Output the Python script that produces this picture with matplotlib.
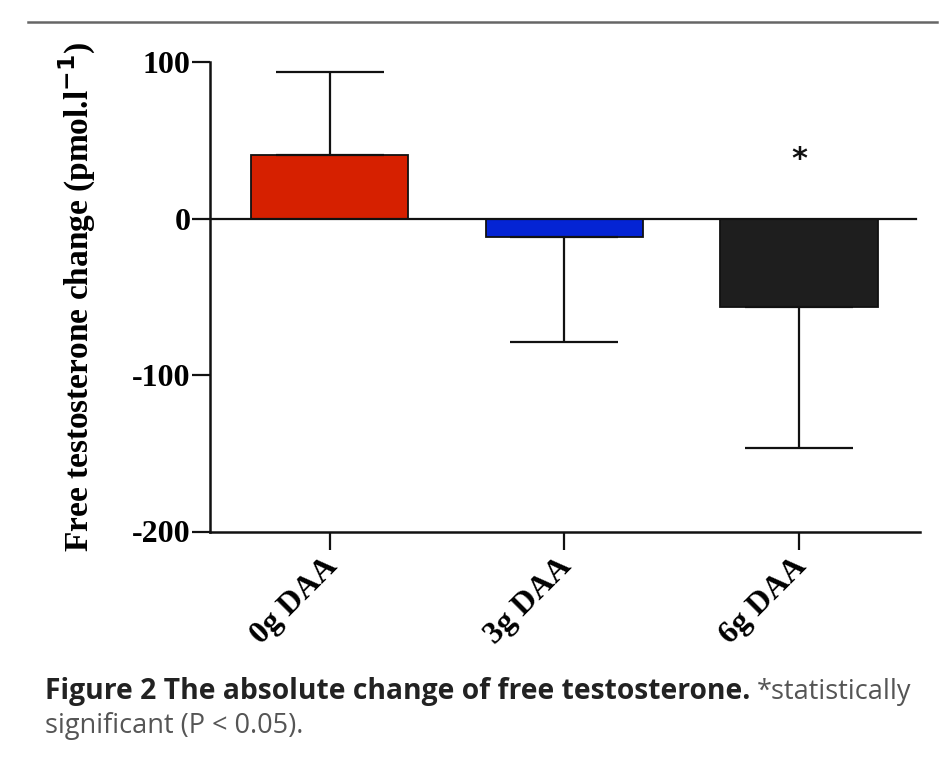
import matplotlib.pyplot as plt
from matplotlib.lines import Line2D

groups = ["0g DAA", "3g DAA", "6g DAA"]
means = [41, -11.5, -56.5]
errs = [53, 67, 90]
colors = ["#D62000", "#0424D4", "#1E1E1E"]
sig = [False, False, True]
yticks = [-200, -100, 0, 100]

plt.rcParams["font.family"] = ["Liberation Serif", "DejaVu Serif"]

fig = plt.figure(figsize=(9.53, 7.68), dpi=100)
ax = fig.add_axes([210 / 953, 1 - 531.5 / 768, 710 / 953, 469 / 768])

x = list(range(len(groups)))
ax.bar(x, means, width=0.67, color=colors, edgecolor="#111111", linewidth=1.3, zorder=2)
# one-sided error bars, away from zero
for xi, m, e in zip(x, means, errs):
    sign = 1 if m >= 0 else -1
    ax.errorbar(xi, m, yerr=[[e if sign < 0 else 0], [e if sign > 0 else 0]],
                fmt="none", ecolor="#111111", elinewidth=1.6, capsize=39, capthick=1.6, zorder=3)
for xi, s in zip(x, sig):
    if s:
        ax.text(xi, 38, "*", ha="center", va="center", fontsize=22, fontweight="bold",
                family="DejaVu Sans", color="#111111")

ax.axhline(0, color="#111111", linewidth=1.6, xmax=0.995, zorder=4)
ax.set_xlim(-0.51, 2.515)
ax.set_ylim(-200, 100)
ax.set_yticks(yticks)
ax.set_yticklabels([str(t) for t in yticks], fontsize=23, fontweight="bold")
ax.set_xticks(x)
ax.set_xticklabels([])
# rotated category labels, nudged left like the original
for xi, g in zip(x, groups):
    ax.annotate(g, xy=(xi, 0), xycoords=ax.get_xaxis_transform(),
                xytext=(-7, -20), textcoords="offset pixels",
                rotation=45, ha="right", va="top", rotation_mode="anchor",
                fontsize=23, fontweight="bold", annotation_clip=False)
for sp in ["top", "right"]:
    ax.spines[sp].set_visible(False)
for sp in ["left", "bottom"]:
    ax.spines[sp].set_linewidth(1.8)
    ax.spines[sp].set_color("#111111")
ax.tick_params(axis="both", length=13, width=1.6, color="#111111")
ax.tick_params(axis="y", pad=1)
ax.set_ylabel("Free testosterone change (pmol.l$^{\\mathbf{-1}}$)", fontsize=24,
              fontweight="bold")
ax.yaxis.set_label_coords(-0.158, 0.50)

fig.add_artist(Line2D([28 / 953, 937 / 953], [1 - 22 / 768] * 2, color="#666666", linewidth=1.8))

cap_font = ["Open Sans", "DejaVu Sans"]
t1 = fig.text(45 / 953, 1 - 699 / 768, "Figure 2 The absolute change of free testosterone.",
              fontsize=20.3, fontweight="bold", family=cap_font, color="#222222", va="baseline")
fig.canvas.draw()
bb = t1.get_window_extent()
fig.text((bb.x1 + 6) / 953, 1 - 699 / 768, "*statistically", fontsize=19.5,
         family=cap_font, color="#555555", va="baseline")
fig.text(45 / 953, 1 - 733 / 768, "significant (P < 0.05).", fontsize=19.5,
         family=cap_font, color="#555555", va="baseline")

fig.savefig("out.png", dpi=100)
